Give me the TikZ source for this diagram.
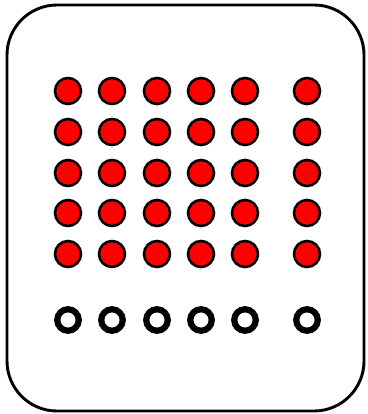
\documentclass[tikz,border=0pt]{standalone}
\usepackage{xcolor}
\definecolor{dotred}{HTML}{FF0000}
\usepackage{tikz}
\usetikzlibrary{positioning}

\begin{document}
\begin{tikzpicture}[
  x=1pt,y=-1pt,
  panel/.style={draw=black,line width=2.9pt,rounded corners=50pt},
  reddot/.style={circle,draw=black,fill=dotred,line width=2.6pt,minimum size=26pt,inner sep=0pt},
  ringdot/.style={circle,draw=black,fill=white,line width=6.2pt,minimum size=21.5pt,inner sep=0pt}]
\useasboundingbox (0,0) rectangle (367,414);
\draw[panel] (7,5) rectangle (364,411);
\foreach \col/\x in {1/68,2/112,3/157,4/201,5/245,6/307} {
  \foreach \row/\y in {1/91,2/132,3/173,4/213,5/254}
    \node[reddot] (dot\col\row) at (\x,\y) {};
  \node[ringdot] (ring\col) at (\x,320) {};
}
\end{tikzpicture}
\end{document}
